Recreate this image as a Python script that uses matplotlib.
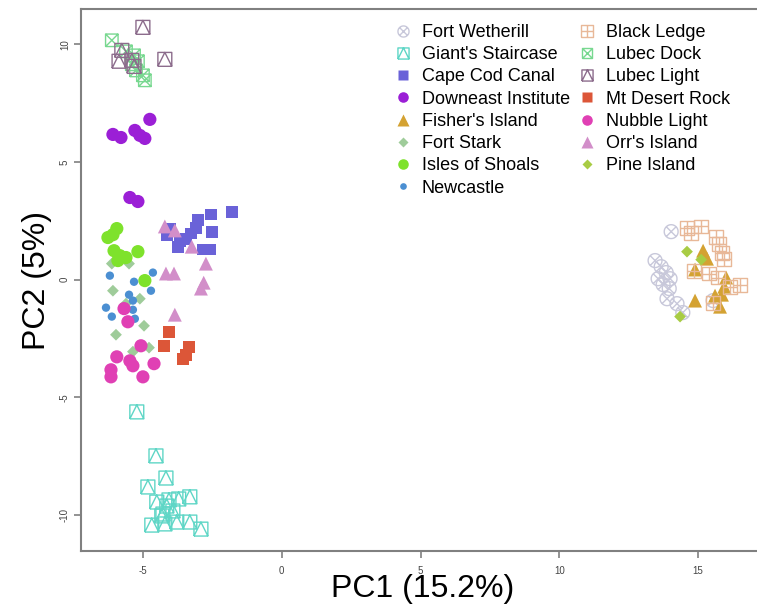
import numpy as np
import matplotlib
matplotlib.use("Agg")
import matplotlib.pyplot as plt
from matplotlib.path import Path
from matplotlib.lines import Line2D

plt.rcParams['font.family'] = ['Liberation Sans', 'DejaVu Sans']

# PCA scores per population
fort_wetherill_x = [14.03, 13.45, 13.67, 13.85, 13.99, 13.56, 13.74, 13.96, 13.88, 14.24, 14.45, 15.54]
fort_wetherill_y = [2.04, 0.81, 0.55, 0.30, 0.04, 0.04, -0.21, -0.38, -0.81, -1.02, -1.40, -0.89]
giants_x = [-5.22, -4.53, -4.17, -4.82, -4.50, -4.06, -3.71, -3.31, -4.28, -3.92, -4.68, -4.21, -3.78, -3.31, -2.91, -4.14, -4.32]
giants_y = [-5.62, -7.49, -8.43, -8.81, -9.45, -9.36, -9.32, -9.23, -9.96, -9.83, -10.43, -10.38, -10.30, -10.30, -10.60, -9.62, -10.04]
cape_cod_x = [-1.80, -2.55, -3.02, -2.52, -3.27, -4.03, -3.67, -3.74, -2.84, -2.59, -4.14, -3.45, -3.09]
cape_cod_y = [2.89, 2.77, 2.55, 2.04, 1.96, 2.17, 1.62, 1.40, 1.28, 1.28, 1.91, 1.74, 2.21]
downeast_x = [-4.75, -6.08, -5.79, -5.29, -5.11, -4.93, -5.47, -5.18]
downeast_y = [6.81, 6.17, 6.04, 6.34, 6.13, 6.00, 3.49, 3.32]
fishers_x = [15.18, 15.32, 14.89, 16.01, 15.94, 15.61, 15.86, 14.89, 15.79]
fishers_y = [1.23, 0.89, 0.43, 0.09, -0.30, -0.68, -0.64, -0.89, -1.15]
fort_stark_x = [-5.50, -6.08, -5.61, -5.11, -4.96, -5.97, -4.78, -5.36, -6.12]
fort_stark_y = [0.68, -0.47, -1.02, -0.81, -1.96, -2.34, -2.89, -3.06, 0.68]
isles_x = [-5.94, -6.26, -6.08, -6.04, -5.83, -5.61, -5.90, -5.18, -4.93]
isles_y = [2.17, 1.79, 1.91, 1.23, 1.02, 0.94, 0.81, 1.19, -0.04]
newcastle_x = [-6.19, -5.32, -4.64, -4.71, -5.50, -5.36, -6.33, -6.12, -5.36, -5.29]
newcastle_y = [0.17, -0.09, 0.30, -0.47, -0.64, -0.89, -1.19, -1.57, -1.28, -1.66]
black_ledge_x = [14.60, 15.10, 14.75, 15.65, 15.76, 15.86, 15.94, 14.86, 15.40, 15.72, 16.51, 16.15, 15.54]
black_ledge_y = [2.21, 2.26, 2.00, 1.83, 1.53, 1.15, 0.89, 0.38, 0.26, 0.09, -0.21, -0.30, -0.98]
lubec_dock_x = [-6.12, -5.61, -5.32, -5.18, -5.25, -5.00, -4.93, -5.40]
lubec_dock_y = [10.17, 9.70, 9.53, 9.28, 8.89, 8.68, 8.47, 9.15]
lubec_light_x = [-5.00, -5.76, -5.86, -5.40, -5.32, -4.21]
lubec_light_y = [10.72, 9.74, 9.28, 9.32, 9.06, 9.36]
mt_desert_x = [-4.06, -4.24, -3.35, -3.45, -3.56]
mt_desert_y = [-2.21, -2.81, -2.85, -3.19, -3.36]
nubble_x = [-5.68, -5.54, -5.07, -5.94, -5.47, -5.36, -4.60, -6.15, -6.15, -5.00]
nubble_y = [-1.23, -1.79, -2.81, -3.28, -3.45, -3.66, -3.57, -3.83, -4.13, -4.13]
orrs_x = [-4.21, -3.85, -3.24, -4.17, -3.88, -2.73, -2.81, -2.91, -3.85]
orrs_y = [2.26, 2.09, 1.40, 0.26, 0.26, 0.68, -0.13, -0.38, -1.49]
pine_x = [14.60, 15.11, 14.35]
pine_y = [1.19, 0.85, -1.57]


# R-style compound symbols
def compound(*parts):
    verts, codes = [], []
    for pts in parts:
        verts += list(pts)
        codes += [Path.MOVETO] + [Path.LINETO] * (len(pts) - 1)
    return Path(verts, codes)


sq = [(-1, -1), (1, -1), (1, 1), (-1, 1), (-1, -1)]
SQ_TRI = compound(sq, [(-1, -1), (0, 1), (1, -1)])
SQ_PLUS = compound(sq, [(0, -1), (0, 1)], [(-1, 0), (1, 0)])
SQ_X = compound(sq, [(-1, -1), (1, 1)], [(-1, 1), (1, -1)])
th = np.linspace(0, 2 * np.pi, 41)
d = np.sqrt(0.5)
CIRC_X = compound(list(zip(np.cos(th), np.sin(th))), [(-d, -d), (d, d)], [(-d, d), (d, -d)])

# name, x, y, marker, color, size(pt), open
groups = [
    ("Fort Wetherill", fort_wetherill_x, fort_wetherill_y, CIRC_X, '#c8c8da', 10, True),
    ("Giant's Staircase", giants_x, giants_y, SQ_TRI, '#5fd6c6', 10, True),
    ("Cape Cod Canal", cape_cod_x, cape_cod_y, 's', '#6a62d8', 8.5, False),
    ("Downeast Institute", downeast_x, downeast_y, 'o', '#9b1fd6', 9.5, False),
    ("Fisher's Island", fishers_x, fishers_y, '^', '#d4a232', 10, False),
    ("Fort Stark", fort_stark_x, fort_stark_y, 'D', '#9fcc9a', 6, False),
    ("Isles of Shoals", isles_x, isles_y, 'o', '#7ee22c', 9.5, False),
    ("Newcastle", newcastle_x, newcastle_y, 'o', '#4b8fd2', 6, False),
    ("Black Ledge", black_ledge_x, black_ledge_y, SQ_PLUS, '#e8b898', 10, True),
    ("Lubec Dock", lubec_dock_x, lubec_dock_y, SQ_X, '#78d890', 9, True),
    ("Lubec Light", lubec_light_x, lubec_light_y, SQ_TRI, '#8c6c8c', 10, True),
    ("Mt Desert Rock", mt_desert_x, mt_desert_y, 's', '#dc5638', 8.5, False),
    ("Nubble Light", nubble_x, nubble_y, 'o', '#e040b4', 9.5, False),
    ("Orr's Island", orrs_x, orrs_y, '^', '#d28ec9', 10, False),
    ("Pine Island", pine_x, pine_y, 'D', '#a8cc44', 6, False),
]

fig = plt.figure(figsize=(7.57, 6.12), dpi=100)
ax = fig.add_axes([81 / 757, 61 / 612, 684 / 757, 542 / 612])

handles = []
for name, xs, ys, mk, col, ms, hollow in groups:
    if hollow:
        ax.scatter(xs, ys, marker=mk, s=ms ** 2, facecolors='none', edgecolors=col, linewidths=1.0)
        h = Line2D([], [], ls='none', marker=mk, ms=ms * 0.8, mfc='none', mec=col, mew=1.0)
    else:
        ax.scatter(xs, ys, marker=mk, s=ms ** 2, c=col, edgecolors='none')
        h = Line2D([], [], ls='none', marker=mk, ms=ms * 0.8, mfc=col, mec='none')
    handles.append(h)

ax.set_xlim(-7.23, 17.41)
ax.set_ylim(-11.53, 11.5)
ax.set_xticks([-5, 0, 5, 10, 15])
ax.set_yticks([-10, -5, 0, 5, 10])
ax.set_xticklabels(['-5', '0', '5', '10', '15'])
ax.set_yticklabels(['-10', '-5', '0', '5', '10'], rotation=90, va='center')
for s in ax.spines.values():
    s.set_color('#808080')
    s.set_linewidth(1.5)
ax.tick_params(colors='#808080', labelcolor='#444444', labelsize=7, length=5, width=1.2)
ax.tick_params(axis='x', pad=6)
ax.tick_params(axis='y', pad=3)

ax.set_xlabel('PC1 (15.2%)', fontsize=23, labelpad=-2)
ax.set_ylabel('PC2 (5%)', fontsize=23, labelpad=5.5)

fig.legend(handles, [g[0] for g in groups], ncol=2, frameon=False,
           loc='upper left', bbox_to_anchor=(394 / 757, 1 - 24 / 612),
           fontsize=13, labelspacing=0.29, handletextpad=0.55, columnspacing=0.45,
           handlelength=1.0, borderaxespad=0, borderpad=0)

fig.savefig('out.png', dpi=100)
